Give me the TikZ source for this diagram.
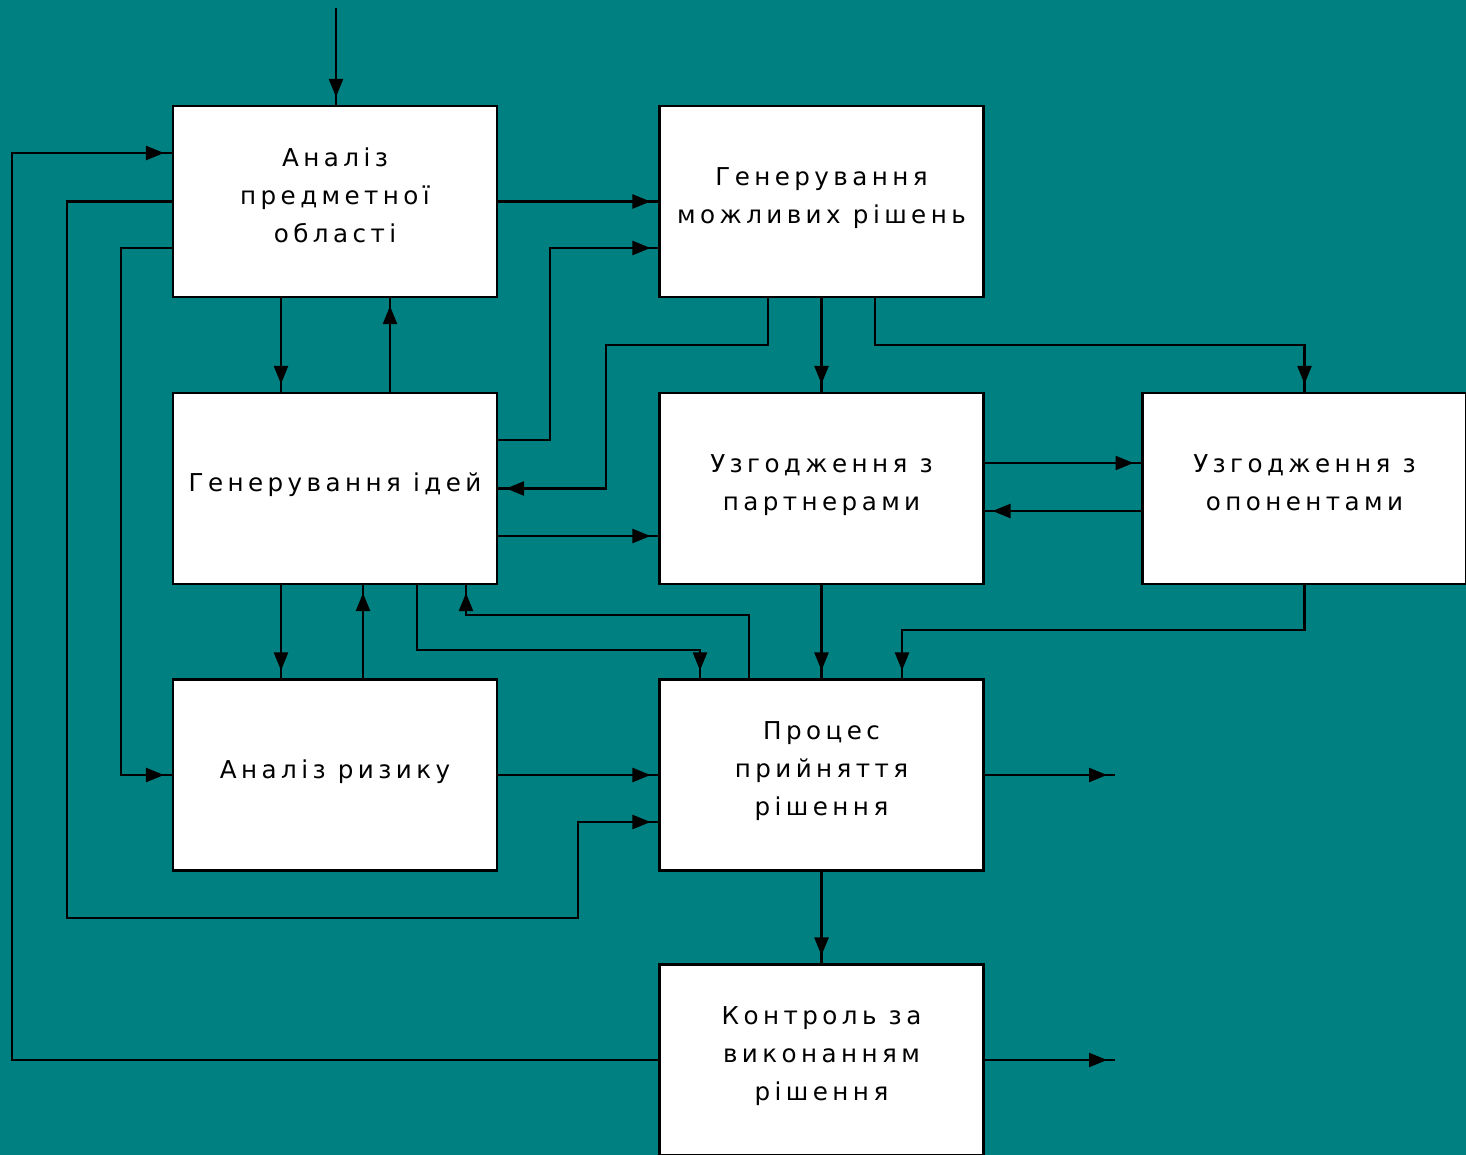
\documentclass[tikz,border=0pt]{standalone}
\usepackage{fontspec}
\newfontfamily\blokfont[LetterSpace=18]{DejaVu Sans}
\usetikzlibrary{arrows.meta,decorations.markings}
\definecolor{morskyi}{RGB}{0,128,128}

\tikzset{
  blok/.style={draw, fill=white, line width=1.2pt, minimum width=6.48cm,
    minimum height=3.82cm, align=center, inner sep=0pt, text depth=7pt,
    font=\blokfont\fontsize{14pt}{21.6pt}\selectfont},
  strilka/.style={line width=1.3pt, postaction={decorate},
    decoration={markings, mark=at position -0.16cm with
      {\arrow{Triangle[length=0.36cm,width=0.28cm]}}}}
}

\begin{document}
\begin{tikzpicture}[x=0.02cm, y=-0.02cm]
  \clip (0,0) rectangle (1466,1155);
  \fill[morskyi] (0,0) rectangle (1466,1155);

  % blocks
  \node[blok] (A) at (335,201.5) {Аналіз\\предметної\\області};
  \node[blok] (B) at (821.5,201.5) {Генерування\\можливих рішень};
  \node[blok] (C) at (335,488.5) {Генерування ідей};
  \node[blok] (D) at (821.5,488.5) {Узгодження з\\партнерами};
  \node[blok] (E) at (1304.5,488.5) {Узгодження з\\опонентами};
  \node[blok] (F) at (335,775) {Аналіз ризику};
  \node[blok] (G) at (821.5,775) {Процес\\прийняття\\рішення};
  \node[blok] (H) at (821.5,1060) {Контроль за\\виконанням\\рішення};

  \coordinate (vhid) at (336,8);
  \coordinate (vyhid1) at (1115,775);
  \coordinate (vyhid2) at (1115,1060);

  % connectors
  \draw[strilka] (vhid) -- (vhid |- A.north);
  \draw[strilka] (H.west) -| (12,153) -- (A.west |- 0,153);
  \draw[strilka] (A.west) -| (67,918) -| (578,822) -- (G.west |- 0,822);
  \draw[strilka] (A.west |- 0,248) -| (121,775) -- (F.west);
  \draw[strilka] (A.east) -- (B.west);
  \draw[strilka] (C.east |- 0,440) -| (550,248) -- (B.west |- 0,248);
  \draw[strilka] (B.south -| 768,0) |- (606,345) |- (C.east);
  \draw[strilka] (B.south) -- (D.north);
  \draw[strilka] (B.south -| 875,0) -- (875,345) -| (E.north);
  \draw[strilka] (A.south -| 281,0) -- (C.north -| 281,0);
  \draw[strilka] (C.north -| 390,0) -- (A.south -| 390,0);
  \draw[strilka] (C.east |- 0,536) -- (D.west |- 0,536);
  \draw[strilka] (D.east |- 0,463) -- (E.west |- 0,463);
  \draw[strilka] (E.west |- 0,511) -- (D.east |- 0,511);
  \draw[strilka] (C.south -| 281,0) -- (F.north -| 281,0);
  \draw[strilka] (F.north -| 363,0) -- (C.south -| 363,0);
  \draw[strilka] (C.south -| 417,0) |- (700,650) -- (G.north -| 700,0);
  \draw[strilka] (G.north -| 749,0) |- (466,615) -- (C.south -| 466,0);
  \draw[strilka] (D.south) -- (G.north);
  \draw[strilka] (E.south) |- (902,630) -- (G.north -| 902,0);
  \draw[strilka] (F.east) -- (G.west);
  \draw[strilka] (G.east) -- (vyhid1);
  \draw[strilka] (G.south) -- (H.north);
  \draw[strilka] (H.east) -- (vyhid2);
\end{tikzpicture}
\end{document}
